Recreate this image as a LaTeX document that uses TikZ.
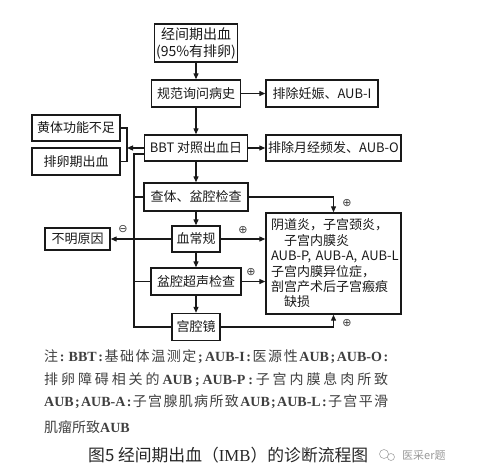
\documentclass[tikz,border=0pt]{standalone}
\usepackage{fontspec}
\setmainfont{Noto Sans CJK SC}
\newfontfamily\latfont{Liberation Serif}
\newfontfamily\symfont{DejaVu Sans}
\newcommand\lattxt[1]{{\latfont\bfseries #1}}
\newcommand\justline[1]{\makebox[344pt][s]{\spaceskip=0pt plus 1fil\relax #1}}
\usetikzlibrary{arrows.meta}
\begin{document}
\begin{tikzpicture}[x=1pt,y=-1pt,
 box/.style={draw=black!90, line width=1.4pt, inner sep=0pt, font=\fontsize{13}{15}\selectfont, align=center, text=black!90},
 arr/.style={line width=1.2pt, draw=black!90, -{Triangle[length=6pt,width=5pt]}},
 ln/.style={line width=1.2pt, draw=black!90},
 sign/.style={font=\symfont\fontsize{11}{11}\selectfont, text=black!75, inner sep=0pt},
 note/.style={anchor=west, inner sep=0pt, font=\fontsize{14}{16}\selectfont, text=black!75},
]
\useasboundingbox (0,0) rectangle (482,466);
% boxes
\node[box, minimum width=83pt, minimum height=38pt, font=\fontsize{14}{17}\selectfont] (top) at (196,43) {经间期出血\\(95\%有排卵)};
\node[box, minimum width=89pt, minimum height=27pt] (hist) at (196,93.5) {规范询问病史};
\node[box, minimum width=112pt, minimum height=27pt] (ex1) at (322,93.5) {排除妊娠、AUB-I};
\node[box, minimum width=103pt, minimum height=26pt] (bbt) at (196,148) {BBT 对照出血日};
\node[box, minimum width=135pt, minimum height=26pt] (ex2) at (333.5,148) {排除月经频发、AUB-O};
\node[box, minimum width=88pt, minimum height=26pt] (huang) at (76,128) {黄体功能不足};
\node[box, minimum width=88pt, minimum height=27pt] (pail) at (76,161.5) {排卵期出血};
\node[box, minimum width=104pt, minimum height=28pt] (chati) at (196,197) {查体、盆腔检查};
\node[box, minimum width=48pt, minimum height=26pt] (xue) at (196,239) {血常规};
\node[box, minimum width=65pt, minimum height=22pt] (bumin) at (77.5,239) {不明原因};
\node[box, minimum width=90pt, minimum height=27pt] (pen) at (196,281.5) {盆腔超声检查};
\node[box, minimum width=48pt, minimum height=27pt] (gong) at (196,327) {宫腔镜};
\node[box, text width=125pt, inner xsep=5pt, minimum height=101pt, align=left, font=\fontsize{13}{15.4}\selectfont] (res) at (333.5,263.5)
 {阴道炎，子宫颈炎，\\\hspace*{1em}子宫内膜炎\\\mbox{AUB-P, AUB-A, AUB-L}\\子宫内膜异位症，\\剖宫产术后子宫瘢痕\\\hspace*{1em}缺损};
% main spine
\draw[arr] (top.south) -- (hist.north);
\draw[arr] (hist) -- (ex1);
\draw[arr] (hist.south) -- (bbt.north);
\draw[arr] (bbt) -- (ex2);
\draw[arr] (bbt.south) -- (chati.north);
\draw[arr] (chati.south) -- (xue.north);
\draw[arr] (xue.south) -- (pen.north);
\draw[arr] (pen.south) -- (gong.north);
% to result
\draw[arr] (xue.east) -- (res.west |- xue.east);
\draw[arr] (pen.east) -- (res.west |- pen.east);
\draw[arr] (chati.east) -| (res.north);
\draw[arr] (gong.east) -| (res.south);
% negative
\draw[arr] (xue.west) -- (bumin.east);
% bracket
\coordinate (brk) at (127,148);
\draw[ln] (huang.east) -- (huang.east -| brk) -- (pail.east -| brk) -- (pail.east);
\draw[arr] (bbt.west) -- (brk);
% bus
\coordinate (bt) at (134,154);
\coordinate (bb) at (134,327);
\draw[ln] (bbt.west |- bt) -- (bt) -- (bb) -- (gong.west);
\draw[ln] (chati.west) -- (chati.west -| bt);
\draw[ln] (pen.west) -- (pen.west -| bt);
% signs
\node[sign] (s1) at (347,203) {⊕};
\node[sign] (s2) at (243,230) {⊕};
\node[sign] (s3) at (251,272) {⊕};
\node[sign] (s4) at (347,323) {⊕};
\node[sign] (s5) at (123,229) {⊖};
% notes
\node[note] (n1) at (44,357) {\justline{注 \lattxt{:} \lattxt{BBT} \lattxt{:} 基 础 体 温 测 定 \lattxt{;} \lattxt{AUB-I} \lattxt{:} 医 源 性 \lattxt{AUB} \lattxt{;} \lattxt{AUB-O} \lattxt{:}}};
\node[note] (n2) at (44,380) {\justline{排 卵 障 碍 相 关 的 \lattxt{AUB} \lattxt{;} \lattxt{AUB-P} \lattxt{:} 子 宫 内 膜 息 肉 所 致}};
\node[note] (n3) at (44,402) {\justline{\lattxt{AUB} \lattxt{;} \lattxt{AUB-A} \lattxt{:} 子 宫 腺 肌 病 所 致 \lattxt{AUB} \lattxt{;} \lattxt{AUB-L} \lattxt{:} 子 宫 平 滑}};
\node[note] (n4) at (44,427) {肌瘤所致\lattxt{AUB}};
\node[anchor=west, inner sep=0pt, font=\fontsize{16.8}{17}\selectfont, text=black!85] (cap) at (88,455) {图5 经间期出血（\lattxt{\mdseries IMB}）的诊断流程图};
% watermark
\draw[black!35, line width=0.6pt] (384,454) circle (4.5) (391,457) circle (3.5);
\node[anchor=west, inner sep=0pt, text=black!40, font=\fontsize{11}{11}\selectfont] (wm) at (402,455) {医采er题};
\end{tikzpicture}
\end{document}
